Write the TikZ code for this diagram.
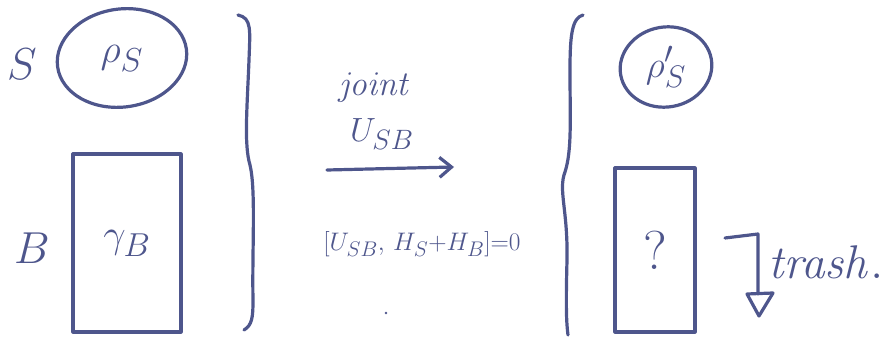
\documentclass[tikz,border=0pt]{standalone}
\usetikzlibrary{shapes.geometric,arrows.meta}
\definecolor{ink}{RGB}{78,86,140}
\newcommand\grow[2]{\scalebox{#1}{#2}}
\tikzset{
  pen/.style={draw=ink, line width=3.2pt, line cap=round, line join=round},
  lbl/.style={text=ink, inner sep=0pt, font=\Huge},
  state/.style={pen, ellipse, inner sep=0pt},
  box/.style={pen, rectangle, inner sep=0pt},
}
\begin{document}
\begin{tikzpicture}[x=1pt, y=-1pt]
\useasboundingbox (0,0) rectangle (892,339);

% system and bath before the interaction
\node[lbl] (S) at (22,64) {\grow{1.8}{$S$}};
\node[lbl] (B) at (32,248) {\grow{1.8}{$B$}};
\node[state, minimum width=130pt, minimum height=98pt, rotate=8] (rhoS) at (122,58) {};
\node[lbl] at (rhoS.center) {\grow{1.6}{$\rho_S$}};
\node[box, minimum width=108pt, minimum height=178pt] (gamB) at (127,243) {};
\node[lbl] at (gamB.center) {\grow{1.6}{$\gamma_B$}};

% right brace closing the initial state
\draw[pen] (238,15) .. controls (252,18) and (250,30) .. (249,60)
  .. controls (247,110) and (244,145) .. (250,165)
  .. controls (256,190) and (252,250) .. (253,300)
  .. controls (253,318) and (252,325) .. (244,330);

% the joint unitary
\node[lbl] (joint) at (375,88) {\grow{1.4}{$\mathit{joint}$}};
\node[lbl] (U) at (382,134) {\grow{1.35}{$U_{SB}$}};
\coordinate (a0) at (327,170);
\coordinate (a1) at (454,167);
\draw[pen, -{Straight Barb[length=12pt, width=20pt]}] (a0) -- (a1);
\node[lbl] (comm) at (422,244) {\grow{1.02}{$[U_{SB},\,H_S{+}H_B]{=}0$}};
\fill[ink] (386,313) circle (1.3pt);

% left brace opening the final state
\draw[pen] (583,15) .. controls (572,18) and (570,35) .. (570,70)
  .. controls (570,120) and (572,150) .. (565,172)
  .. controls (558,190) and (568,210) .. (567,260)
  .. controls (566,300) and (566,320) .. (568,335);

% system and bath after the interaction
\node[state, minimum width=92pt, minimum height=80pt, rotate=10] (rhoS2) at (666,67) {};
\node[lbl] at (rhoS2.center) {\grow{1.5}{$\rho_S'$}};
\node[box, minimum width=80pt, minimum height=164pt] (qbox) at (655,250) {};
\node[lbl] at (qbox.center) {\grow{2.2}{$?$}};

% trace out the bath: hooked line ending in an open triangle
\coordinate (t0) at (725,238);
\coordinate (t1) at (758,294);
\draw[pen] (t0) -- (758,234) -- (t1);
\draw[pen] (t1) ++(-11,0) -- ++(26,-1) -- (759,316) -- cycle;
\node[lbl, anchor=west] (trash) at (768,262) {\grow{1.9}{$\mathit{trash.}$}};
\end{tikzpicture}
\end{document}
